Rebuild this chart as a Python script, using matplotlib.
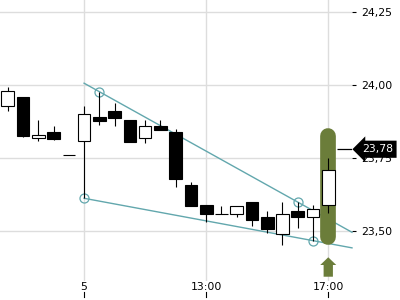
import numpy as np
import matplotlib
matplotlib.use("Agg")
import matplotlib.pyplot as plt
from matplotlib.patches import FancyArrow

# candle data (30 min bars)
opens = [23.927, 23.960, 23.817, 23.839, 23.759, 23.807, 23.890, 23.911, 23.880, 23.817, 23.860,
         23.839, 23.658, 23.589, 23.557, 23.557, 23.600, 23.548, 23.489, 23.568, 23.547, 23.589]
highs = [23.992, 23.960, 23.880, 23.860, 23.759, 23.928, 23.977, 23.939, 23.880, 23.880, 23.880,
         23.849, 23.668, 23.589, 23.587, 23.587, 23.600, 23.568, 23.599, 23.599, 23.589, 23.750]
lows = [23.912, 23.821, 23.809, 23.811, 23.759, 23.612, 23.862, 23.861, 23.806, 23.800, 23.847,
        23.650, 23.587, 23.530, 23.557, 23.549, 23.518, 23.492, 23.451, 23.509, 23.467, 23.561]
closes = [23.978, 23.826, 23.828, 23.816, 23.759, 23.900, 23.878, 23.888, 23.806, 23.860, 23.847,
          23.677, 23.587, 23.557, 23.557, 23.587, 23.537, 23.507, 23.557, 23.547, 23.576, 23.709]

xtick_pos = [5, 13, 21]
xtick_labels = ["5", "13:00", "17:00"]
yticks = [23.50, 23.75, 24.00, 24.25]
current_price = 23.78

# trend lines: (index, price) anchor pairs
upper_pts = [(6, 23.977), (19, 23.599)]
lower_pts = [(5, 23.612), (20, 23.467)]
trend_start = 5

teal = "#62a7ad"
olive = "#6b7d3a"
grid_c = "#dddddd"

fig = plt.figure(figsize=(4, 3), dpi=100)
ax = fig.add_axes([0, 19 / 300, 352 / 400, 281 / 300])
xmin, xmax = -0.511, 22.556
ax.set_xlim(xmin, xmax)
ax.set_ylim(23.3288, 24.291)
for s in ax.spines.values():
    s.set_visible(False)
ax.set_axisbelow(True)
ax.grid(True, color=grid_c, linewidth=1.0)

x = np.arange(len(opens))
o = np.array(opens)
c = np.array(closes)
up = c >= o

# trend lines
for pts in (upper_pts, lower_pts):
    (x1, y1), (x2, y2) = pts
    slope = (y2 - y1) / (x2 - x1)
    xs = np.array([trend_start, xmax])
    ax.plot(xs, y1 + slope * (xs - x1), color=teal, lw=1.0, zorder=2, clip_on=False)
    ax.plot([x1, x2], [y1, y2], ls="none", marker="o", ms=6.5, mfc="none",
            mec=teal, mew=0.9, zorder=2)

# highlight of last candle
last = x[-1]
cap = 0.027
ax.plot([last, last], [23.452 + cap, 23.852 - cap], color=olive, lw=11.3,
        solid_capstyle="round", zorder=3)

# candles
ax.vlines(x, lows, highs, color="black", lw=0.8, zorder=4)
ax.bar(x, c - o, bottom=o, width=0.83, color=np.where(up, "white", "black"),
       edgecolor="black", linewidth=0.8, zorder=5)

# up arrow below last candle
ax.add_patch(FancyArrow(last, 23.3435, 0, 0.0665, width=0.61, head_width=1.05,
                        head_length=0.0264, length_includes_head=True,
                        color=olive, lw=0, zorder=5, clip_on=False))

# current price line and tag
ax.hlines(current_price, last + 0.6, xmax, color="black", lw=0.9, zorder=5)
ax.annotate(f"{current_price:.2f}".replace(".", ","), xy=(1.0, current_price),
            xycoords=ax.get_yaxis_transform(), xytext=(10, 0), textcoords="offset pixels",
            va="center", ha="left", color="white", fontsize=7.8, zorder=10,
            annotation_clip=False,
            bbox=dict(boxstyle="larrow,pad=0.33", fc="black", ec="black", lw=0))

ax.set_xticks(xtick_pos)
ax.set_xticklabels(xtick_labels)
ax.set_yticks(yticks)
ax.set_yticklabels([f"{v:.2f}".replace(".", ",") for v in yticks])
ax.yaxis.tick_right()
ax.tick_params(axis="y", length=2.9, width=0.8, pad=4, labelsize=7.8, colors="black")
ax.tick_params(axis="x", length=0, pad=1, labelsize=7.8)

# small tick marks under the time labels
for xp in xtick_pos:
    ax.plot([xp, xp], [-11 / 281, -16 / 281], color="black", lw=0.8,
            transform=ax.get_xaxis_transform(), clip_on=False)

fig.savefig("out.png", dpi=100, facecolor="white")
